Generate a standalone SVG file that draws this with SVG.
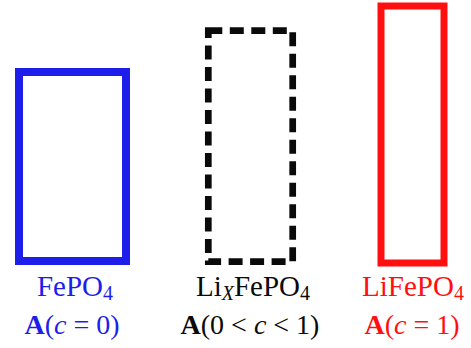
<svg xmlns="http://www.w3.org/2000/svg" width="471" height="348" viewBox="0 0 471 348">
<style>
.t{font-family:'Liberation Serif',serif;font-size:28px;text-anchor:middle}
.l1{font-size:29px}
.b{fill:#1e1eeb}.k{fill:#0a0a0a}.r{fill:#ff0f0f}
.sub{font-size:20px}
.bold{font-weight:bold}
.it{font-style:italic}
</style>
<rect width="471" height="348" fill="#fff"/>
<g id="fepo4">
<rect x="19" y="72" width="107" height="189" fill="none" stroke="#1e1eeb" stroke-width="8"/>
<text class="t l1 b" x="75" y="296">FePO<tspan class="sub" dy="4">4</tspan></text>
<text class="t b" x="72" y="334"><tspan class="bold">A</tspan>(<tspan class="it">c</tspan> = 0)</text>
</g>
<g id="lixfepo4">
<rect x="208.3" y="30.7" width="84.4" height="231" fill="none" stroke="#0a0a0a" stroke-width="6.7" stroke-dasharray="14 7.5"/>
<text class="t l1 k" x="253" y="296">Li<tspan class="sub it" dy="4">X</tspan><tspan dy="-4">FePO</tspan><tspan class="sub" dy="4">4</tspan></text>
<text class="t k" x="250" y="334"><tspan class="bold">A</tspan>(0 &lt; <tspan class="it">c</tspan> &lt; 1)</text>
</g>
<g id="lifepo4">
<rect x="381" y="6" width="63" height="257" fill="none" stroke="#ff0f0f" stroke-width="7"/>
<text class="t l1 r" x="413" y="296">LiFePO<tspan class="sub" dy="4">4</tspan></text>
<text class="t r" x="412" y="334"><tspan class="bold">A</tspan>(<tspan class="it">c</tspan> = 1)</text>
</g>
<g id="connectors"/>
</svg>
